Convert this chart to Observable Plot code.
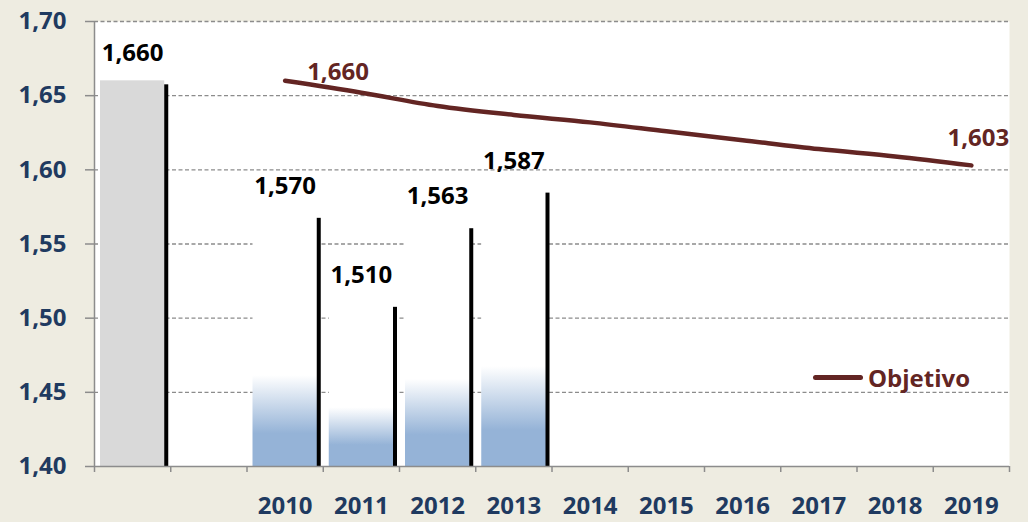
<!DOCTYPE html>
<html><head><meta charset="utf-8">
<script src="https://cdn.jsdelivr.net/npm/d3@7"></script>
<script src="https://cdn.jsdelivr.net/npm/@observablehq/plot@0.6"></script>
<style>
html,body{margin:0;padding:0;background:#EEECE1;}
#chart{position:relative;width:1028px;height:522px;overflow:hidden;}
#legend{position:absolute;left:813px;top:361px;display:flex;align-items:center;font:bold 24px "Open Sans";color:#632523;white-space:nowrap;}
#legend .sw{display:inline-block;width:50px;height:5px;background:#632523;border-radius:3px;margin-right:5px;}
</style></head><body>
<div id="chart"><div id="legend"><span class="sw"></span><span>Objetivo</span></div></div>
<script>
// ---- data ----
const categories = ["Base", "Hueco", "2010", "2011", "2012", "2013", "2014", "2015", "2016", "2017", "2018", "2019"];
const tickLabels = ["", "", "2010", "2011", "2012", "2013", "2014", "2015", "2016", "2017", "2018", "2019"];
const barCats = ["Base", "2010", "2011", "2012", "2013"];
const barValues = [1.660, 1.570, 1.510, 1.563, 1.587];
const objCats = ["2010", "2011", "2012", "2013", "2014", "2015", "2016", "2017", "2018", "2019"];
const objValues = [1.660, 1.652, 1.643, 1.637, 1.632, 1.626, 1.620, 1.614, 1.609, 1.603];
const yTicks = [1.40, 1.45, 1.50, 1.55, 1.60, 1.65, 1.70];
const legendLabel = "Objetivo";

// ---- derived tables ----
const yMin = yTicks[0], yMax = yTicks[yTicks.length - 1];
const bars = barCats.map((c, k) => ({cat: c, i: categories.indexOf(c), v: barValues[k], base: k === 0}));
const obj = objCats.map((c, k) => ({cat: c, i: categories.indexOf(c), v: objValues[k]}));
const fmt3 = v => v.toFixed(3).replace(".", ",");
const fmt2 = v => v.toFixed(2).replace(".", ",");
const RED = "#632523", NAVY = "#1F3A60", GRID = "#8c8c8c";

const defs = () => {
  const ns = "http://www.w3.org/2000/svg";
  const d = document.createElementNS(ns, "defs");
  d.innerHTML = `<linearGradient id="barGrad" x1="0" y1="0" x2="0" y2="1">
    <stop offset="0" stop-color="#ffffff"/>
    <stop offset="0.64" stop-color="#ffffff"/>
    <stop offset="0.87" stop-color="#95B3D7"/>
    <stop offset="1" stop-color="#95B3D7"/></linearGradient>`;
  return d;
};

document.getElementById("legend").lastChild.textContent = legendLabel;

const plot = Plot.plot({
  width: 1028,
  height: 522,
  marginLeft: 94,
  marginRight: 19,
  marginTop: 21,
  marginBottom: 56,
  style: {background: "transparent", fontFamily: "Open Sans", fontWeight: "bold", overflow: "visible"},
  x: {domain: [-0.5, categories.length - 0.5]},
  y: {domain: [yMin, yMax]},
  marks: [
    defs,
    Plot.frame({fill: "white", stroke: null}),
    Plot.ruleY(yTicks.filter(t => t > yMin), {stroke: GRID, strokeWidth: 1.3, strokeDasharray: "4,2.5"}),
    // shadows
    Plot.rectY(bars, {x1: d => d.i - 0.5, x2: d => d.i + 0.5, y1: () => yMin, y2: "v", insetLeft: 6, insetRight: 6, insetBottom: 4, dx: 4, dy: 4, fill: "#000"}),
    // bars
    Plot.rectY(bars, {x1: d => d.i - 0.5, x2: d => d.i + 0.5, y1: () => yMin, y2: "v", insetLeft: 6, insetRight: 6, fill: d => d.base ? "#D9D9D9" : "url(#barGrad)"}),
    Plot.ruleY([yMin], {stroke: GRID, strokeWidth: 1.5}),
    Plot.ruleX([-0.5], {y1: yMin, y2: yMax, stroke: GRID, strokeWidth: 1.5}),
    Plot.axisY(yTicks, {label: null, tickSize: 9, tickPadding: 19, tickFormat: fmt2, stroke: GRID, fill: NAVY, fontSize: 24, fontWeight: "bold", strokeWidth: 1.5}),
    Plot.axisX(d3.range(categories.length + 1).map(k => k - 0.5), {label: null, tickSize: 6, tickFormat: () => "", stroke: GRID, strokeWidth: 1.5}),
    Plot.axisX(d3.range(categories.length), {label: null, tickSize: 0, tickPadding: 30, tickFormat: k => tickLabels[k], fill: NAVY, fontSize: 24, fontWeight: "bold"}),
    Plot.text(bars, {x: "i", y: "v", text: d => fmt3(d.v), dy: -28, fill: "#000", fontSize: 24, fontWeight: "bold"}),
    Plot.line(obj, {x: "i", y: "v", stroke: RED, strokeWidth: 4.5, curve: "monotone-x", strokeLinecap: "round"}),
    Plot.text(obj.slice(0, 1), {x: "i", y: "v", text: d => fmt3(d.v), dx: 22, dy: -9, textAnchor: "start", fill: RED, fontSize: 24, fontWeight: "bold"}),
    Plot.text(obj.slice(-1), {x: "i", y: "v", text: d => fmt3(d.v), dx: 7, dy: -27, fill: RED, fontSize: 24, fontWeight: "bold"})
  ]
});
plot.style.position = "absolute";
plot.style.left = "0";
plot.style.top = "0";
document.getElementById("chart").insertBefore(plot, document.getElementById("legend"));
</script>
</body></html>
